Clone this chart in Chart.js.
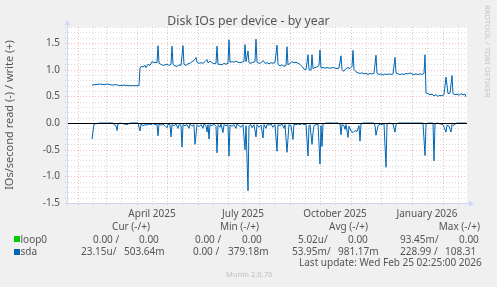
<!DOCTYPE html>
<html>
<head>
<meta charset="utf-8">
<script src="https://cdn.jsdelivr.net/npm/chart.js@4.4.1/dist/chart.umd.min.js"></script>
<style>
  body { margin: 0; background: #f0f0f0; font-family: "Noto Sans", sans-serif; color: #555; }
  #wrap { position: relative; width: 497px; height: 287px; overflow: hidden; background: #f0f0f0; }
  #chart { position: absolute; left: 0; top: 0; }
  .t { position: absolute; font-size: 10px; line-height: 12px; white-space: pre; }
  .title { position: absolute; left: 0; width: 497px; top: 14px; text-align: center; font-size: 12.3px; line-height: 14px; }
  .rrd { position: absolute; left: 483px; top: 5px; writing-mode: vertical-rl; font-size: 7.7px; line-height: 9px; color: #c8c8c8; }
  .munin { position: absolute; left: 226px; top: 268px; font-size: 7.6px; line-height: 12px; color: #c0c0c0; }
  .sq { position: absolute; width: 6px; height: 6px; }
</style>
</head>
<body>
<div id="wrap">
  <canvas id="chart" width="497" height="287"></canvas>
  <div class="title">Disk IOs per device - by year</div>
  <div class="rrd">RRDTOOL / TOBI OETIKER</div>
  <div id="legend"></div>
  <div class="munin">Munin 2.0.76</div>
</div>
<script>
// x = days since 21 Jan 2025 (graph spans 400 days, ending 25 Feb 2026)
const monthStartDays = [11, 39, 70, 100, 131, 161, 192, 223, 253, 284, 314, 345, 376];
const midMonthDays = [26, 54, 85, 115, 146, 176, 207, 238, 268, 299, 329, 360, 391];
const labelDays = [85, 176, 268, 360];
const monthLabels = ['April 2025', 'July 2025', 'October 2025', 'January 2026'];

// sda writes (+), IOs/second
const writeDays = [
  25, 28, 33, 37, 41, 45, 49, 53, 57, 61,
  65, 69, 72, 73, 74, 76, 78, 79, 81, 83,
  85, 87, 89, 90, 91, 92, 94, 96, 98, 100,
  102, 104, 105, 106, 108, 110, 112, 114, 116, 117,
  119, 121, 123, 125, 127, 129, 130, 132, 134, 136,
  138, 140, 141, 143, 145, 147, 149, 150, 151, 153,
  155, 157, 159, 161, 162, 163, 165, 167, 169, 171,
  173, 175, 177, 178, 179, 181, 182, 184, 186, 188,
  189, 190, 192, 194, 196, 198, 200, 202, 204, 206,
  208, 210, 211, 213, 215, 217, 219, 220, 221, 223,
  225, 227, 229, 231, 233, 235, 237, 239, 241, 242,
  244, 245, 246, 248, 250, 252, 253, 254, 256, 258,
  260, 262, 264, 266, 268, 270, 272, 274, 275, 277,
  279, 281, 283, 285, 286, 287, 289, 291, 293, 295,
  297, 299, 301, 303, 305, 307, 309, 310, 312, 314,
  316, 318, 320, 322, 324, 326, 328, 329, 331, 333,
  335, 337, 339, 341, 343, 345, 347, 349, 351, 353,
  355, 357, 358, 359, 361, 363, 365, 367, 369, 371,
  373, 375, 377, 379, 381, 383, 385, 386, 388, 390,
  392, 394, 396, 398, 399
];
const writeRates = [
  0.71, 0.72, 0.73, 0.72, 0.73, 0.71, 0.72, 0.70, 0.71, 0.70,
  0.70, 0.70, 0.70, 1.03, 1.06, 1.05, 1.08, 1.04, 1.10, 1.08,
  1.15, 1.13, 1.14, 1.13, 1.45, 1.12, 1.10, 1.08, 1.09, 1.10,
  1.08, 1.10, 1.44, 1.10, 1.07, 1.06, 1.09, 1.08, 1.45, 1.10,
  1.08, 1.11, 1.12, 1.15, 1.17, 1.23, 1.14, 1.12, 1.13, 1.12,
  1.15, 1.19, 1.13, 1.16, 1.13, 1.11, 1.12, 1.44, 1.10, 1.10,
  1.09, 1.12, 1.10, 1.12, 1.56, 1.14, 1.15, 1.14, 1.16, 1.14,
  1.13, 1.14, 1.16, 1.47, 1.15, 1.35, 1.13, 1.12, 1.14, 1.15,
  1.57, 1.14, 1.12, 1.13, 1.17, 1.12, 1.13, 1.11, 1.13, 1.12,
  1.14, 1.46, 1.10, 1.07, 1.09, 1.06, 1.08, 1.43, 1.09, 1.12,
  1.15, 1.13, 1.14, 1.12, 1.10, 1.06, 1.01, 1.00, 1.28, 1.00,
  0.99, 1.28, 1.02, 1.04, 1.05, 1.08, 1.37, 1.03, 1.04, 1.03,
  1.04, 1.03, 1.03, 1.04, 1.03, 1.02, 1.03, 1.26, 1.00, 0.97,
  1.02, 1.04, 1.02, 1.06, 1.36, 1.00, 0.96, 0.94, 0.93, 0.94,
  0.92, 0.93, 0.91, 0.93, 0.92, 0.93, 1.27, 0.93, 0.91, 0.92,
  0.90, 0.92, 0.91, 0.92, 0.91, 0.92, 1.23, 0.94, 0.92, 0.91,
  0.92, 0.91, 0.93, 0.92, 0.94, 0.92, 0.91, 0.92, 0.91, 0.92,
  0.91, 0.93, 1.28, 0.56, 0.55, 0.53, 0.54, 0.51, 0.53, 0.50,
  0.52, 0.51, 0.53, 0.86, 0.55, 0.56, 0.89, 0.55, 0.53, 0.54,
  0.52, 0.55, 0.53, 0.54, 0.49
];

// sda reads (-), IOs/second, drawn below zero
const readDays = [
  25, 27, 30, 33, 46, 47, 49, 50, 51, 53,
  60, 62, 64, 71, 73, 74, 76, 78, 80, 82,
  84, 86, 88, 90, 91, 92, 94, 96, 98, 100,
  101, 103, 104, 105, 107, 109, 111, 112, 114, 115,
  116, 118, 120, 122, 123, 125, 127, 128, 130, 132,
  134, 136, 137, 139, 140, 141, 142, 143, 145, 147,
  149, 150, 151, 153, 154, 156, 157, 159, 161, 162,
  163, 165, 167, 169, 170, 172, 174, 176, 178, 179,
  181, 182, 184, 185, 187, 189, 190, 192, 194, 196,
  197, 199, 200, 202, 204, 206, 208, 210, 211, 213,
  215, 217, 218, 220, 222, 224, 226, 227, 229, 231,
  233, 235, 237, 239, 241, 242, 243, 245, 246, 247,
  249, 251, 253, 254, 255, 256, 257, 259, 271, 273,
  274, 275, 277, 278, 279, 281, 282, 284, 286, 288,
  290, 292, 293, 294, 296, 307, 308, 309, 311, 313,
  315, 317, 319, 320, 322, 326, 328, 329, 331, 356,
  358, 359, 361, 366, 367, 368, 370, 376, 379, 380,
  382, 384, 385, 386, 388, 390, 399
];
const readRates = [
  0.30, 0.02, 0.01, 0, 0, 0.03, 0.05, 0.14, 0.02, 0,
  0.03, 0.01, 0, 0, 0.15, 0.02, 0.05, 0.03, 0.04, 0.02,
  0.03, 0.01, 0.03, 0.02, 0.24, 0.02, 0.04, 0.02, 0.05, 0.09,
  0.02, 0.03, 0.26, 0.03, 0.05, 0.02, 0.10, 0.03, 0.04, 0.45,
  0.03, 0.05, 0.03, 0.10, 0.02, 0.06, 0.03, 0.40, 0.03, 0.07,
  0.03, 0.10, 0.02, 0.05, 0.17, 0.03, 0.30, 0.03, 0.05, 0.02,
  0.06, 0.56, 0.03, 0.08, 0.02, 0.18, 0.03, 0.05, 0.03, 0.62,
  0.04, 0.06, 0.03, 0.10, 0.02, 0.05, 0.08, 0.03, 0.50, 0.05,
  1.27, 0.05, 0.03, 0.09, 0.03, 0.26, 0.03, 0.08, 0.04, 0.28,
  0.03, 0.10, 0.03, 0.04, 0.02, 0.08, 0.03, 0.53, 0.03, 0.05,
  0.02, 0.10, 0.03, 0.55, 0.03, 0.05, 0.31, 0.02, 0.03, 0.02,
  0.03, 0.01, 0.03, 0.02, 0.62, 0.05, 0.03, 0.40, 0.18, 0.05,
  0.03, 0.02, 0.77, 0.05, 0.44, 0.02, 0.01, 0, 0, 0.02,
  0.22, 0.03, 0.05, 0.12, 0.03, 0.27, 0.06, 0.15, 0.18, 0.14,
  0.16, 0.05, 0.34, 0.02, 0, 0, 0.05, 0.23, 0.05, 0.02,
  0.03, 0.01, 0.83, 0.02, 0, 0.02, 0.17, 0.03, 0, 0,
  0.61, 0.02, 0, 0, 0.71, 0.02, 0, 0.03, 0.17, 0.04,
  0.06, 0.17, 0.03, 0.05, 0.02, 0, 0
];

// legend table
const legendHeads = ['Cur (-/+)', 'Min (-/+)', 'Avg (-/+)', 'Max (-/+)'];
const legendNames = ['loop0', 'sda'];
const legendValues = [
  ['0.00 /', '0.00', '0.00 /', '0.00', '5.02u/', '0.00', '93.45m/', '0.00'],
  ['23.15u/', '503.64m', '0.00 /', '379.18m', '53.95m/', '981.17m', '228.99 /', '108.31'],
];
const lastUpdate = 'Last update: Wed Feb 25 02:25:00 2026';

const sdaColor = '#0066b3';
const loopColor = '#00cc00';

// legend layout (measured from the munin png)
const headRight = [150, 259, 368, 480];
const valueLeft = [
  [93, 139, 195, 242, 298, 348, 400, 459],
  [81, 124, 193, 228, 292, 338, 400, 445],
];
const rowCenter = [239.3, 251.7];

function addText(text, left, centerY, extra) {
  const d = document.createElement('div');
  d.className = 't';
  d.textContent = text;
  d.style.top = (centerY - 6.3) + 'px';
  if (extra === 'right') {
    d.style.right = (497 - left) + 'px';
  } else {
    d.style.left = left + 'px';
  }
  document.getElementById('legend').appendChild(d);
  return d;
}

legendHeads.forEach((h, i) => addText(h, headRight[i], 226.7, 'right'));
legendNames.forEach((name, r) => {
  const sq = document.createElement('div');
  sq.className = 'sq';
  sq.style.left = '14px';
  sq.style.top = (rowCenter[r] - 3) + 'px';
  sq.style.background = r === 0 ? loopColor : sdaColor;
  document.getElementById('legend').appendChild(sq);
  addText(name, 20.5, rowCenter[r]);
  legendValues[r].forEach((v, c) => addText(v, valueLeft[r][c], rowCenter[r]));
});
addText(lastUpdate, 299, 262.7);

// grid, canvas background, zero rule and axis arrows
const munin = {
  id: 'munin',
  beforeDraw(chart) {
    const { ctx, chartArea: a } = chart;
    ctx.save();
    ctx.fillStyle = '#ffffff';
    ctx.fillRect(a.left, a.top, a.right - a.left, a.bottom - a.top);
    ctx.restore();
  },
  beforeDatasetsDraw(chart) {
    const { ctx, chartArea: a, scales } = chart;
    const x = scales.x, y = scales.y;
    ctx.save();
    ctx.lineWidth = 1;
    ctx.setLineDash([1, 2]);
    const vline = (d, color) => {
      const px = Math.round(x.getPixelForValue(d)) + 0.5;
      ctx.strokeStyle = color;
      ctx.beginPath();
      ctx.moveTo(px, a.top);
      ctx.lineTo(px, a.bottom + 3);
      ctx.stroke();
    };
    const hline = (v, color) => {
      const py = Math.round(y.getPixelForValue(v)) + 0.5;
      ctx.strokeStyle = color;
      ctx.beginPath();
      ctx.moveTo(a.left - 2, py);
      ctx.lineTo(a.right, py);
      ctx.stroke();
    };
    const minorCol = 'rgba(175,175,175,0.45)';
    const majorCol = 'rgba(230,120,120,0.5)';
    y.ticks.forEach(t => {
      const major = Math.round(t.value * 10) % 5 === 0;
      if (!major) hline(t.value, minorCol);
    });
    midMonthDays.forEach(d => vline(d, minorCol));
    y.ticks.forEach(t => {
      if (Math.round(t.value * 10) % 5 === 0) hline(t.value, majorCol);
    });
    monthStartDays.forEach(d => vline(d, majorCol));
    ctx.restore();
  },
  afterDatasetsDraw(chart) {
    const { ctx, chartArea: a, scales } = chart;
    ctx.save();
    // zero rule
    const z = Math.round(scales.y.getPixelForValue(0)) + 0.5;
    ctx.strokeStyle = '#000';
    ctx.lineWidth = 1;
    ctx.beginPath();
    ctx.moveTo(a.left, z);
    ctx.lineTo(a.right, z);
    ctx.stroke();
    // axes with arrows
    const ax = Math.round(a.left) + 0.5, ay = Math.round(a.bottom) + 0.5;
    ctx.strokeStyle = '#cfd6f8';
    ctx.fillStyle = '#cfd6f8';
    ctx.beginPath();
    ctx.moveTo(ax, ay + 2);
    ctx.lineTo(ax, a.top - 3);
    ctx.moveTo(ax - 2, ay);
    ctx.lineTo(a.right + 3, ay);
    ctx.stroke();
    ctx.beginPath();
    ctx.moveTo(ax - 3, a.top - 2);
    ctx.lineTo(ax + 3, a.top - 2);
    ctx.lineTo(ax, a.top - 7);
    ctx.closePath();
    ctx.fill();
    ctx.beginPath();
    ctx.moveTo(a.right + 2, ay - 3);
    ctx.lineTo(a.right + 2, ay + 3);
    ctx.lineTo(a.right + 7, ay);
    ctx.closePath();
    ctx.fill();
    ctx.restore();
  },
};

const font = { family: 'Noto Sans', size: 10 };

new Chart(document.getElementById('chart'), {
  type: 'line',
  data: {
    datasets: [
      {
        label: 'sda read',
        data: readDays.map((d, i) => ({ x: d, y: -readRates[i] })),
        borderColor: sdaColor,
      },
      {
        label: 'sda write',
        data: writeDays.map((d, i) => ({ x: d, y: writeRates[i] })),
        borderColor: sdaColor,
      },
    ],
  },
  options: {
    responsive: false,
    animation: false,
    layout: { padding: { top: 27, right: 30, left: 0, bottom: 0 } },
    elements: {
      point: { radius: 0 },
      line: { borderWidth: 1, tension: 0, fill: false },
    },
    plugins: { legend: { display: false }, tooltip: { enabled: false } },
    scales: {
      x: {
        type: 'linear',
        min: 0,
        max: 400,
        grid: { display: false, drawTicks: false },
        border: { display: false },
        afterBuildTicks: (s) => {
          s.ticks = labelDays.map((v) => ({ value: v }));
        },
        ticks: {
          autoSkip: false,
          maxRotation: 0,
          padding: 5,
          color: '#555',
          font,
          callback: (v, i) => monthLabels[i],
        },
        afterFit: (s) => {
          s.height = 84;
        },
      },
      y: {
        min: -1.5,
        max: 1.8,
        grid: { display: false, drawTicks: false },
        border: { display: false },
        ticks: {
          stepSize: 0.1,
          autoSkip: false,
          padding: 7,
          color: '#555',
          font,
          callback: (v) => {
            const tenths = Math.round(v * 10);
            return tenths % 5 === 0 ? (tenths / 10).toFixed(1) : '';
          },
        },
        title: {
          display: true,
          text: 'IOs/second read (-) / write (+)',
          color: '#555',
          font: { family: 'Noto Sans', size: 11 },
          padding: { top: 3, bottom: 0 },
        },
        afterFit: (s) => {
          s.width = 67;
        },
      },
    },
  },
  plugins: [munin],
});
</script>
</body>
</html>
